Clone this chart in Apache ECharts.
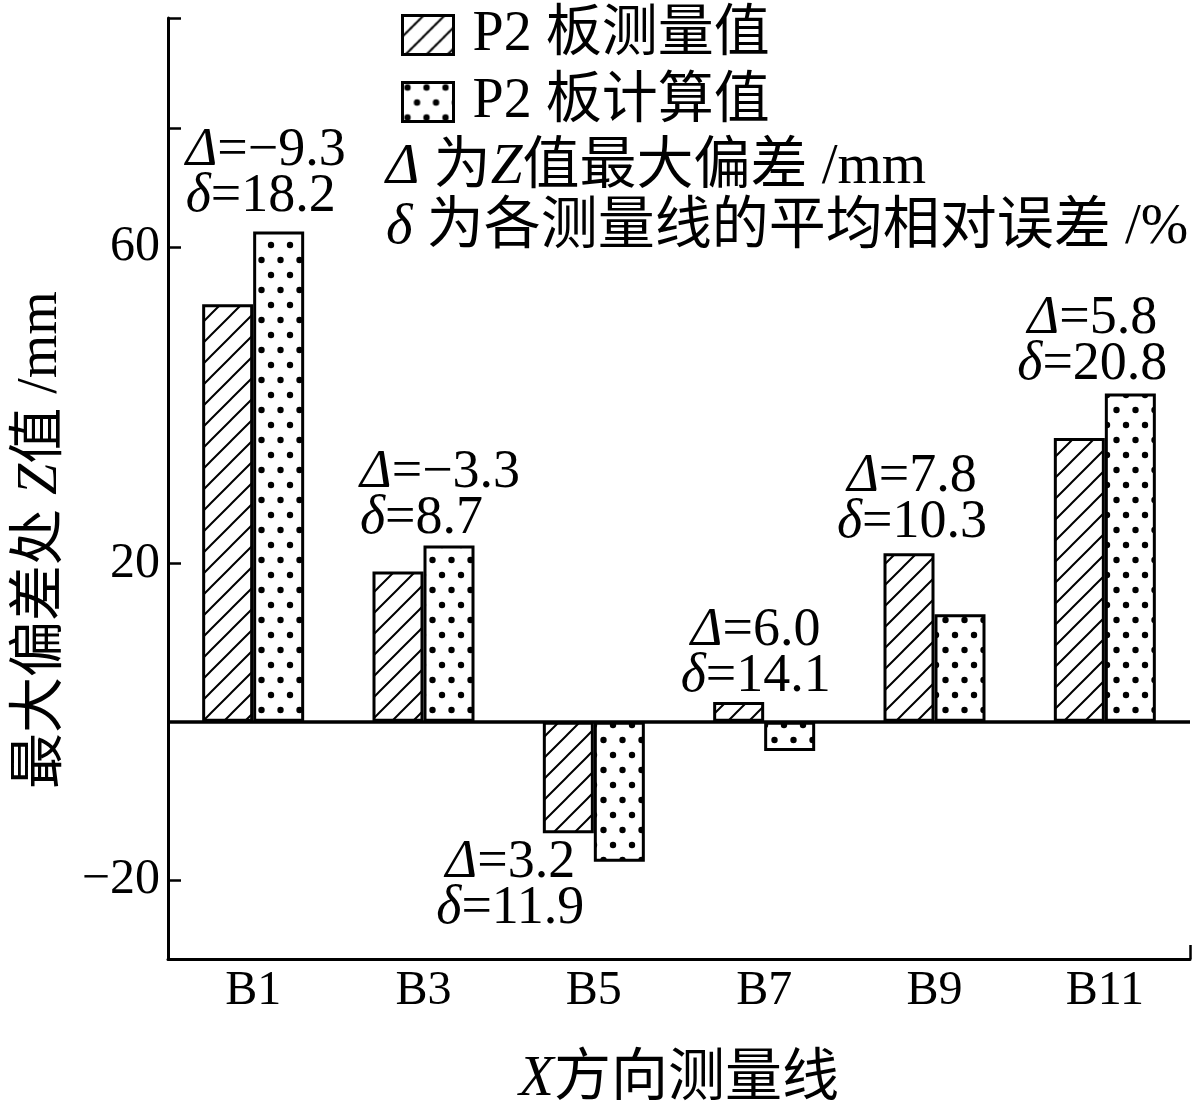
<!DOCTYPE html>
<html><head><meta charset="utf-8">
<script src="https://cdn.jsdelivr.net/npm/echarts@6/dist/echarts.min.js"></script>
<style>html,body{margin:0;padding:0;background:#fff}#c{width:1200px;height:1102px}</style>
</head><body><div id="c"></div>
<script>
// ---------- data ----------
const categories = ['B1', 'B3', 'B5', 'B7', 'B9', 'B11'];
const measured = [52.8, 19.0, -14.1, 2.5, 21.3, 35.9];
const calculated = [62.0, 22.3, -17.7, -3.7, 13.6, 41.5];
const maxDev = [-9.3, -3.3, 3.2, 6.0, 7.8, 5.8];
const meanRelErr = [18.2, 8.7, 11.9, 14.1, 10.3, 20.8];
const yTickLabels = [-20, 20, 60];
const yTicksAll = [-20, 20, 60, 75, 89];
const seriesNames = ['P2 板测量值', 'P2 板计算值'];
const noteLines = ['{i|Δ} 为{i|Z}值最大偏差 /mm', '{i|δ} 为各测量线的平均相对误差 /%'];
const yName = '最大偏差处 {i|Z}值 /mm';
const xName = '{i|X}方向测量线';

// ---------- style ----------
const FONT = "'Liberation Serif','Noto Sans CJK SC',serif";
const annotAnchor = ['calc', 'calc', 'calc', 'meas', 'meas', 'calc'];
const annotPos = ['top', 'top', 'bottom', 'top', 'top', 'top'];
const annotAlign = ['left', 'left', 'center', 'center', 'center', 'center'];
const annotOffset = [[-93, -6], [-89, 2], [-109, -28], [17, 4], [3, -2], [-38, 0]];

function hatchPattern() {
  const s = 21, c = document.createElement('canvas');
  c.width = s; c.height = s;
  const g = c.getContext('2d');
  g.fillStyle = '#fff'; g.fillRect(0, 0, s, s);
  g.strokeStyle = '#000'; g.lineWidth = 2;
  g.beginPath();
  g.moveTo(-3, s + 3); g.lineTo(s + 3, -3);
  g.moveTo(-3, 3); g.lineTo(3, -3);
  g.moveTo(s - 3, s + 3); g.lineTo(s + 3, s - 3);
  g.stroke();
  return c;
}
function dotPattern() {
  const w = 38, h = 30, c = document.createElement('canvas');
  c.width = w; c.height = h;
  const g = c.getContext('2d');
  g.fillStyle = '#fff'; g.fillRect(0, 0, w, h);
  g.fillStyle = '#000';
  [[5, 5], [24, 5], [14.5, 20], [33.5, 20]].forEach(p => {
    g.beginPath(); g.arc(p[0], p[1], 3.2, 0, Math.PI * 2); g.fill();
  });
  return c;
}
const fmt = v => (v < 0 ? '−' : '') + Math.abs(v).toFixed(1);

function annotLabel(i) {
  return {
    show: true,
    position: annotPos[i],
    offset: annotOffset[i],
    align: annotAlign[i],
    distance: 6,
    formatter: '{i|Δ}=' + fmt(maxDev[i]) + '\n{i|δ}=' + meanRelErr[i].toFixed(1),
    fontSize: 54, lineHeight: 46, fontFamily: FONT, color: '#000',
    rich: { i: { fontStyle: 'italic', fontFamily: FONT, fontSize: 54, lineHeight: 46, color: '#000' } }
  };
}
const measData = measured.map((v, i) => annotAnchor[i] === 'meas' ? { value: v, label: annotLabel(i) } : v);
const calcData = calculated.map((v, i) => annotAnchor[i] === 'calc' ? { value: v, label: annotLabel(i) } : v);

const axisLineStyle = { color: '#000', width: 3 };
const tickStyle = { color: '#000', width: 2.5 };
const noteStyle = (t, y) => ({
  type: 'text', x: 386, y: y,
  style: { text: t, fontSize: 57, fontFamily: FONT, fill: '#000', verticalAlign: 'middle',
    rich: { i: { fontStyle: 'italic', fontSize: 57, fontFamily: FONT } } }
});

const chart = echarts.init(document.getElementById('c'), null, { renderer: 'canvas' });
chart.setOption({
  backgroundColor: '#fff',
  animation: false,
  grid: { left: 168, right: 10, top: 18, bottom: 143, containLabel: false, outerBoundsMode: 'none' },
  legend: {
    orient: 'vertical', left: 396, top: 2, itemWidth: 51, itemHeight: 39, itemGap: 11,
    icon: 'rect', data: seriesNames,
    itemStyle: { borderWidth: 3, borderColor: '#000' },
    textStyle: { fontSize: 56, fontFamily: FONT, color: '#000', padding: [0, 0, 0, 14] }
  },
  xAxis: [{
    type: 'category', data: categories, position: 'bottom',
    axisLine: { onZero: false, lineStyle: axisLineStyle },
    axisTick: { alignWithLabel: true, inside: true, length: 14, lineStyle: tickStyle },
    axisLabel: { fontSize: 48, fontFamily: FONT, color: '#000', margin: 8 },
    name: xName, nameLocation: 'middle', nameGap: 93,
    nameTextStyle: { fontSize: 57, fontFamily: FONT, color: '#000', rich: { i: { fontStyle: 'italic', fontSize: 57, fontFamily: FONT } } }
  }, {
    type: 'value', min: 0, max: 1, position: 'bottom',
    axisLine: { show: false, onZero: false },
    axisTick: { show: true, inside: true, length: 14, customValues: [1], lineStyle: tickStyle },
    axisLabel: { show: false }, splitLine: { show: false }
  }],
  yAxis: {
    type: 'value', min: -30, max: 89,
    axisLine: { show: true, onZero: false, lineStyle: axisLineStyle },
    axisTick: { show: true, inside: true, length: 13, customValues: yTicksAll, lineStyle: tickStyle },
    axisLabel: {
      customValues: yTickLabels, fontSize: 50, fontFamily: FONT, color: '#000', margin: 8,
      formatter: v => (v < 0 ? '−' + Math.abs(v) : String(v))
    },
    splitLine: { show: false }
  },
  series: [{
    name: seriesNames[0], type: 'bar', xAxisIndex: 0, data: measData,
    barWidth: 51, barGap: '0%',
    itemStyle: { color: { image: hatchPattern(), repeat: 'repeat' }, borderColor: '#000', borderWidth: 3 },
    markLine: {
      silent: true, symbol: 'none', label: { show: false },
      lineStyle: { color: '#000', width: 3.5, type: 'solid' },
      data: [{ yAxis: 0 }]
    }
  }, {
    name: seriesNames[1], type: 'bar', xAxisIndex: 0, data: calcData,
    barWidth: 51, barGap: '0%',
    itemStyle: { color: { image: dotPattern(), repeat: 'repeat' }, borderColor: '#000', borderWidth: 3 }
  }],
  graphic: [
    noteStyle(noteLines[0], 168),
    noteStyle(noteLines[1], 228),
    {
      type: 'text', x: 41, y: 540, rotation: Math.PI / 2,
      style: { text: yName, fontSize: 56, fontFamily: FONT, fill: '#000', align: 'center', verticalAlign: 'middle',
        rich: { i: { fontStyle: 'italic', fontSize: 56, fontFamily: FONT } } }
    }
  ]
});
</script></body></html>
